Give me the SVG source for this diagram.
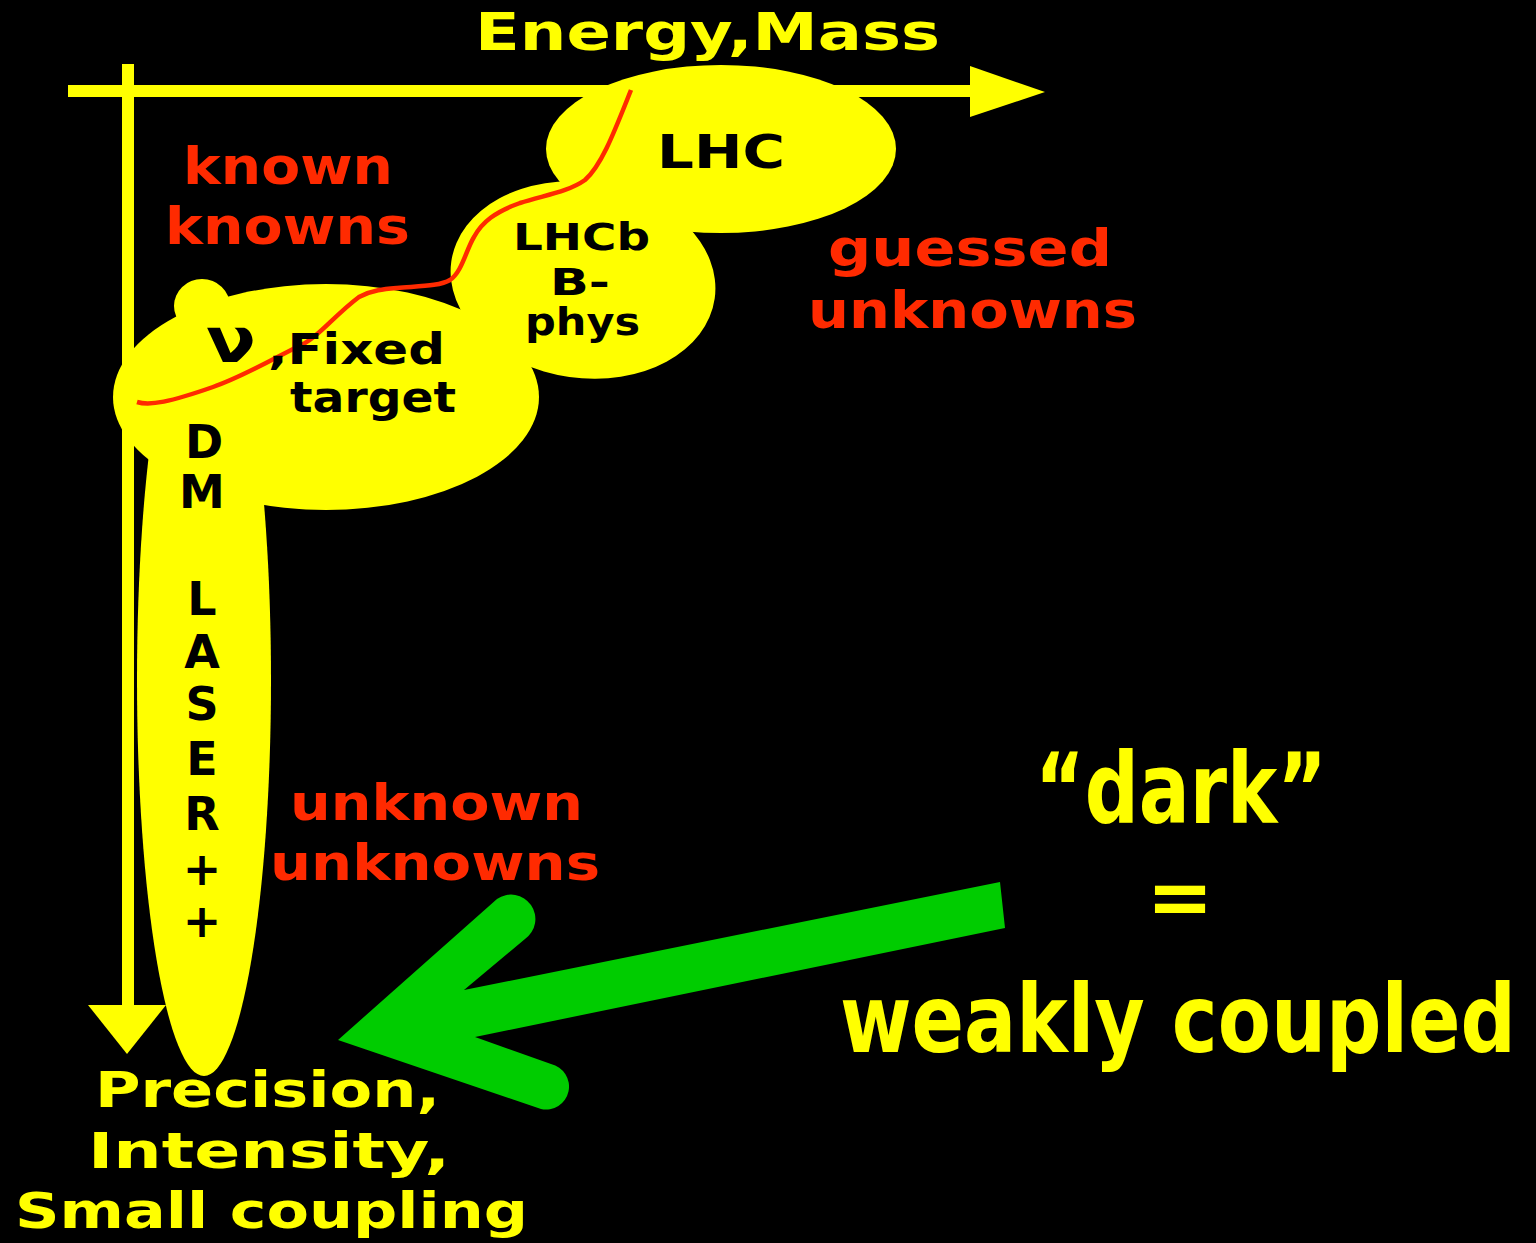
<svg xmlns="http://www.w3.org/2000/svg" width="1536" height="1243" viewBox="0 0 1536 1243">
<style>
.t{font-family:"DejaVu Sans","Liberation Sans",sans-serif;font-weight:bold}
.y{fill:#ffff00}
.r{fill:#ff2a00}
.k{fill:#000000}
.blob{fill:#ffff00}
</style>
<rect x="0" y="0" width="1536" height="1243" fill="#000000"/>
<g id="connectors">
  <g id="axes" fill="#ffff00">
    <rect x="68" y="85" width="905" height="12"/>
    <polygon points="970,66 1045,92 970,117"/>
    <rect x="122" y="64" width="12" height="944"/>
    <polygon points="88,1005 127,1054 166,1005"/>
  </g>
</g>
<g id="node-dm-laser"><ellipse class="blob" cx="204" cy="680" rx="67" ry="396"/></g>
<g id="node-fixed-target">
  <ellipse class="blob" cx="326" cy="397" rx="213" ry="113"/>
  <ellipse class="blob" cx="202" cy="306" rx="28" ry="27"/>
</g>
<g id="node-lhcb"><ellipse class="blob" cx="583" cy="280" rx="133" ry="98" transform="rotate(8 583 280)"/></g>
<g id="node-lhc"><ellipse class="blob" cx="721" cy="149" rx="175" ry="84"/></g>
<g id="curve">
  <path d="M137,402 C150,406 170,402 213,387 C245,376 280,355 305,343 C320,335 335,315 359,297 C372,290 385,289 397,288 C420,286 440,286 450,280 C462,272 466,250 474,237 C482,222 495,212 520,203 C545,195 568,192 585,180 C602,165 615,130 631,90" fill="none" stroke="#ff2a00" stroke-width="4.5"/>
</g>
<g id="green-arrow">
  <path d="M338,1040 L497,899 A24 24 0 0 1 525,939 L464,990 L1000,882 L1005,928 L475,1037 L551,1064 A23 23 0 0 1 541,1109 Z" fill="#00cc00"/>
</g>
<g id="labels">
  <text class="t y" x="475" y="50" font-size="52" textLength="465" lengthAdjust="spacingAndGlyphs">Energy,Mass</text>
  <text class="t r" x="183" y="184" font-size="52" textLength="210" lengthAdjust="spacingAndGlyphs">known</text>
  <text class="t r" x="165" y="244" font-size="52" textLength="245" lengthAdjust="spacingAndGlyphs">knowns</text>
  <text class="t k" x="657" y="168" font-size="46" textLength="128" lengthAdjust="spacingAndGlyphs">LHC</text>
  <text class="t k" x="513" y="250" font-size="37" textLength="137" lengthAdjust="spacingAndGlyphs">LHCb</text>
  <text class="t k" x="550" y="295" font-size="37" textLength="60" lengthAdjust="spacingAndGlyphs">B-</text>
  <text class="t k" x="525" y="335" font-size="37" textLength="115" lengthAdjust="spacingAndGlyphs">phys</text>
  <text class="t r" x="828" y="266" font-size="52" textLength="284" lengthAdjust="spacingAndGlyphs">guessed</text>
  <text class="t r" x="808" y="328" font-size="52" textLength="329" lengthAdjust="spacingAndGlyphs">unknowns</text>
  <text class="t k" x="206" y="362" font-size="62" textLength="50" lengthAdjust="spacingAndGlyphs">ν</text>
  <text class="t k" x="268" y="364" font-size="42" textLength="177" lengthAdjust="spacingAndGlyphs">,Fixed</text>
  <text class="t k" x="290" y="412" font-size="42" textLength="166" lengthAdjust="spacingAndGlyphs">target</text>
  <g class="t k" font-size="46" text-anchor="middle">
    <text x="204" y="458">D</text>
    <text x="202" y="508">M</text>
    <text x="202" y="615">L</text>
    <text x="202" y="668">A</text>
    <text x="202" y="720">S</text>
    <text x="202" y="775">E</text>
    <text x="202" y="830">R</text>
    <text x="202" y="885">+</text>
    <text x="202" y="937">+</text>
  </g>
  <text class="t r" x="290" y="820" font-size="50" textLength="293" lengthAdjust="spacingAndGlyphs">unknown</text>
  <text class="t r" x="270" y="880" font-size="50" textLength="330" lengthAdjust="spacingAndGlyphs">unknowns</text>
  <text class="t y" transform="translate(1035 823) scale(1 1.36)" x="0" y="0" font-size="72" textLength="292" lengthAdjust="spacingAndGlyphs">“dark”</text>
  <text class="t y" x="1180" y="925" font-size="80" text-anchor="middle">=</text>
  <text class="t y" transform="translate(840 1052) scale(1 1.36)" x="0" y="0" font-size="70" textLength="676" lengthAdjust="spacingAndGlyphs">weakly coupled</text>
  <text class="t y" x="95" y="1107" font-size="50" textLength="345" lengthAdjust="spacingAndGlyphs">Precision,</text>
  <text class="t y" x="88" y="1168" font-size="50" textLength="362" lengthAdjust="spacingAndGlyphs">Intensity,</text>
  <text class="t y" x="15" y="1228" font-size="50" textLength="513" lengthAdjust="spacingAndGlyphs">Small coupling</text>
</g>
</svg>
